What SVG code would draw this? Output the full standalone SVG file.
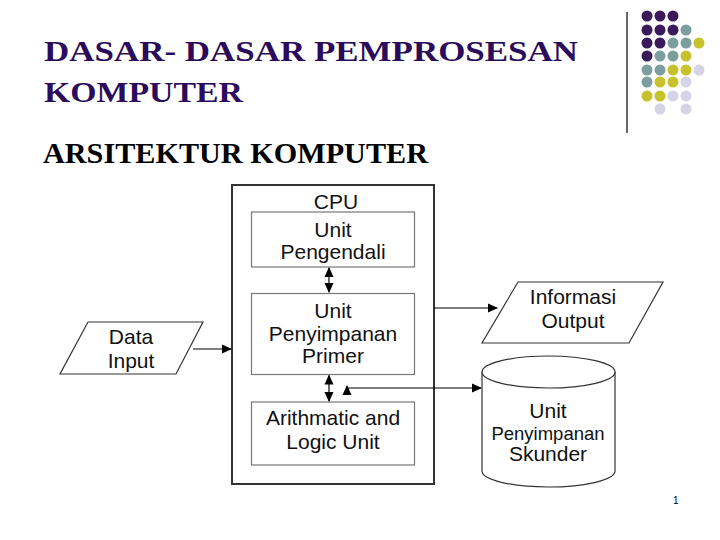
<svg xmlns="http://www.w3.org/2000/svg" width="720" height="540" viewBox="0 0 720 540">
<style>
.title{font-family:"Liberation Serif","Times New Roman",serif;font-weight:bold;font-size:29px;fill:#2a0b5c}
.sub{font-family:"Liberation Serif","Times New Roman",serif;font-weight:bold;font-size:29px;fill:#000}
.lbl{font-family:"Liberation Sans",Arial,sans-serif;font-size:21px;fill:#111;text-anchor:middle}
.sm{font-size:18.5px}
.outer{fill:none;stroke:#333;stroke-width:2}
.inner{fill:none;stroke:#777;stroke-width:1.2}
.shape{fill:#fff;stroke:#333;stroke-width:1.2}
.conn{fill:none;stroke:#000;stroke-width:1.2}
.p{fill:#3b1a5c}.t{fill:#7c9e9f}.y{fill:#c6c22c}.l{fill:#d4d4e6}
</style>
<defs>
<marker id="ah" markerWidth="10" markerHeight="10" refX="9" refY="5" orient="auto-start-reverse" markerUnits="userSpaceOnUse">
<path d="M0,0.5 L10,5 L0,9.5 Z" fill="#000"/>
</marker>
</defs>
<rect width="720" height="540" fill="#fff"/>
<g id="decor">
<line x1="627" y1="12" x2="627" y2="133" stroke="#000" stroke-width="1.2"/>
<g id="dots">
<circle class="p" cx="647" cy="16" r="5.5"/><circle class="p" cx="660" cy="16" r="5.5"/><circle class="p" cx="673" cy="16" r="5.5"/>
<circle class="p" cx="647" cy="30" r="5.5"/><circle class="p" cx="660" cy="30" r="5.5"/><circle class="p" cx="673" cy="30" r="5.5"/><circle class="t" cx="686" cy="30" r="5.5"/>
<circle class="p" cx="647" cy="43" r="5.5"/><circle class="p" cx="660" cy="43" r="5.5"/><circle class="t" cx="673" cy="43" r="5.5"/><circle class="t" cx="686" cy="43" r="5.5"/><circle class="y" cx="699" cy="43" r="5.5"/>
<circle class="p" cx="647" cy="56" r="5.5"/><circle class="t" cx="660" cy="56" r="5.5"/><circle class="t" cx="673" cy="56" r="5.5"/><circle class="y" cx="686" cy="56" r="5.5"/>
<circle class="t" cx="647" cy="70" r="5.5"/><circle class="t" cx="660" cy="70" r="5.5"/><circle class="y" cx="673" cy="70" r="5.5"/><circle class="y" cx="686" cy="70" r="5.5"/><circle class="l" cx="699" cy="70" r="5.5"/>
<circle class="t" cx="647" cy="82" r="5.5"/><circle class="y" cx="660" cy="82" r="5.5"/><circle class="y" cx="673" cy="82" r="5.5"/><circle class="l" cx="686" cy="82" r="5.5"/>
<circle class="y" cx="647" cy="96" r="5.5"/><circle class="y" cx="660" cy="96" r="5.5"/><circle class="l" cx="673" cy="96" r="5.5"/><circle class="l" cx="686" cy="96" r="5.5"/>
<circle class="l" cx="660" cy="109" r="5.5"/><circle class="l" cx="686" cy="109" r="5.5"/>
</g>
</g>
<g id="titles">
<text class="title" x="44" y="61" textLength="534" lengthAdjust="spacingAndGlyphs">DASAR- DASAR PEMPROSESAN</text>
<text class="title" x="44" y="102" textLength="199" lengthAdjust="spacingAndGlyphs">KOMPUTER</text>
<text class="sub" x="43" y="163" textLength="385" lengthAdjust="spacingAndGlyphs">ARSITEKTUR KOMPUTER</text>
</g>
<g id="cpu">
<rect class="outer" x="232" y="185" width="202" height="299"/>
<text class="lbl" x="336" y="209">CPU</text>
</g>
<g id="unit-pengendali">
<rect class="inner" x="251.5" y="212" width="163" height="55"/>
<text class="lbl" x="333" y="237">Unit</text>
<text class="lbl" x="333" y="259">Pengendali</text>
</g>
<g id="unit-primer">
<rect class="inner" x="251.5" y="293.5" width="163" height="81"/>
<text class="lbl" x="333" y="318">Unit</text>
<text class="lbl" x="333" y="341">Penyimpanan</text>
<text class="lbl" x="333" y="363">Primer</text>
</g>
<g id="alu">
<rect class="inner" x="251.5" y="402" width="163" height="63"/>
<text class="lbl" x="333" y="425">Arithmatic and</text>
<text class="lbl" x="333" y="449">Logic Unit</text>
</g>
<g id="data-input">
<polygon class="shape" points="88,322 203,322 176,374 60,374"/>
<text class="lbl" x="131" y="344">Data</text>
<text class="lbl" x="131" y="368">Input</text>
</g>
<g id="informasi-output">
<polygon class="shape" points="518,282 663,282 629,343 482,343"/>
<text class="lbl" x="573" y="304">Informasi</text>
<text class="lbl" x="573" y="328">Output</text>
</g>
<g id="unit-skunder">
<path class="shape" d="M482,372 V471 A66.5,16 0 0 0 615,471 V372"/>
<ellipse class="shape" cx="548.5" cy="372" rx="66.5" ry="16"/>
<text class="lbl" x="548" y="418">Unit</text>
<text class="lbl sm" x="548" y="440">Penyimpanan</text>
<text class="lbl" x="548" y="461">Skunder</text>
</g>
<g id="connectors">
<line class="conn" x1="329" y1="268" x2="329" y2="292" marker-start="url(#ah)" marker-end="url(#ah)"/>
<line class="conn" x1="329" y1="375.5" x2="329" y2="401" marker-start="url(#ah)" marker-end="url(#ah)"/>
<line class="conn" x1="193" y1="349" x2="231" y2="349" marker-end="url(#ah)"/>
<line class="conn" x1="434" y1="308" x2="497" y2="308" marker-end="url(#ah)"/>
<path class="conn" d="M347,386 V388 H481" marker-start="url(#ah)" marker-end="url(#ah)"/>
</g>
<text x="673" y="504" font-family="Liberation Sans,Arial,sans-serif" font-size="10" fill="#000">1</text>
</svg>
